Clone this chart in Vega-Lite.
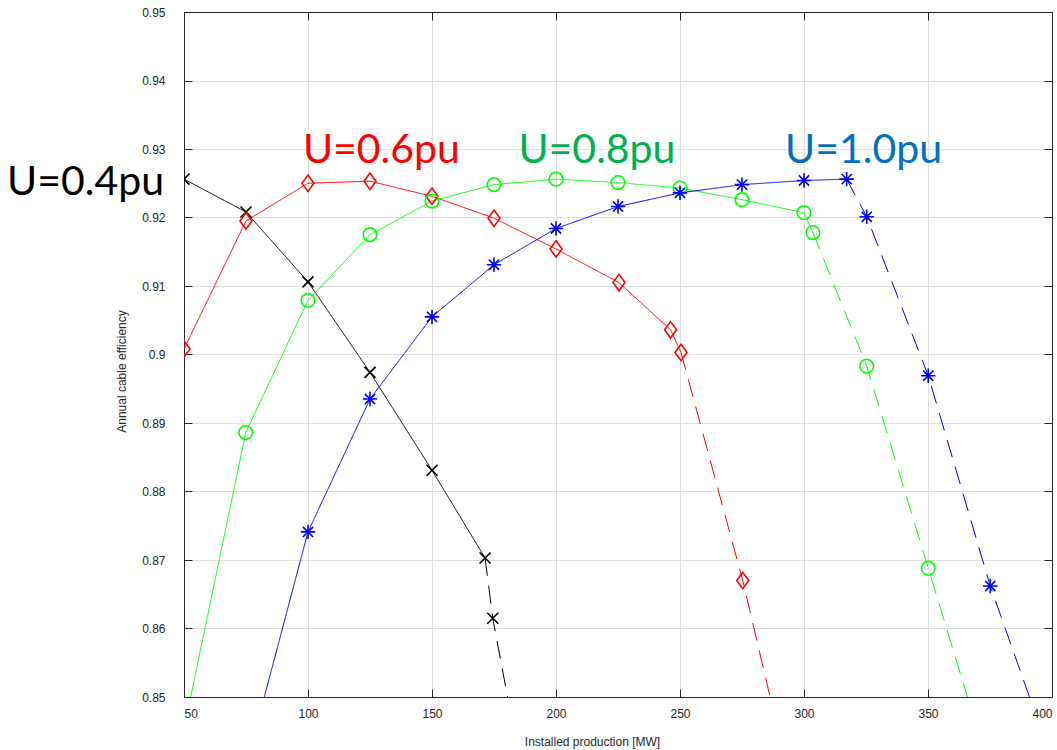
{
  "$schema": "https://vega.github.io/schema/vega-lite/v6.json",
  "width": 868,
  "height": 685,
  "autosize": {"type": "none"},
  "padding": {"left": 184, "top": 12, "right": 5, "bottom": 53},
  "background": "#ffffff",
  "config": {
    "view": {"stroke": null},
    "axis": {
      "domainColor": "#262626",
      "domainWidth": 1,
      "tickColor": "#262626",
      "tickWidth": 1,
      "tickSize": -8,
      "labelFont": "Liberation Sans",
      "labelFontSize": 12,
      "labelColor": "#262626",
      "titleFont": "Liberation Sans",
      "titleFontSize": 12,
      "titleFontWeight": "normal",
      "titleColor": "#262626"
    }
  },
  "datasets": {
    "curves": [
      {"series": "U=0.4pu", "part": "solid", "x": 50, "y": 0.9256},
      {"series": "U=0.4pu", "part": "solid", "x": 75, "y": 0.9208},
      {"series": "U=0.4pu", "part": "solid", "x": 100, "y": 0.9106},
      {"series": "U=0.4pu", "part": "solid", "x": 125, "y": 0.8974},
      {"series": "U=0.4pu", "part": "solid", "x": 150, "y": 0.8831},
      {"series": "U=0.4pu", "part": "solid", "x": 171.4, "y": 0.8703},
      {"series": "U=0.4pu", "part": "dashed", "x": 171.4, "y": 0.8703},
      {"series": "U=0.4pu", "part": "dashed", "x": 174.5, "y": 0.8615},
      {"series": "U=0.4pu", "part": "dashed", "x": 185, "y": 0.8413},

      {"series": "U=0.6pu", "part": "solid", "x": 50, "y": 0.9008},
      {"series": "U=0.6pu", "part": "solid", "x": 75, "y": 0.9195},
      {"series": "U=0.6pu", "part": "solid", "x": 100, "y": 0.925},
      {"series": "U=0.6pu", "part": "solid", "x": 125, "y": 0.9253},
      {"series": "U=0.6pu", "part": "solid", "x": 150, "y": 0.9231},
      {"series": "U=0.6pu", "part": "solid", "x": 175, "y": 0.9199},
      {"series": "U=0.6pu", "part": "solid", "x": 200, "y": 0.9154},
      {"series": "U=0.6pu", "part": "solid", "x": 225.4, "y": 0.9105},
      {"series": "U=0.6pu", "part": "solid", "x": 246.2, "y": 0.9036},
      {"series": "U=0.6pu", "part": "solid", "x": 250.4, "y": 0.9003},
      {"series": "U=0.6pu", "part": "dashed", "x": 250.4, "y": 0.9003},
      {"series": "U=0.6pu", "part": "dashed", "x": 275.3, "y": 0.867},
      {"series": "U=0.6pu", "part": "dashed", "x": 300, "y": 0.829},

      {"series": "U=0.8pu", "part": "solid", "x": 50, "y": 0.8453},
      {"series": "U=0.8pu", "part": "solid", "x": 74.9, "y": 0.8886},
      {"series": "U=0.8pu", "part": "solid", "x": 100, "y": 0.9079},
      {"series": "U=0.8pu", "part": "solid", "x": 125, "y": 0.9175},
      {"series": "U=0.8pu", "part": "solid", "x": 150, "y": 0.9224},
      {"series": "U=0.8pu", "part": "solid", "x": 175, "y": 0.9248},
      {"series": "U=0.8pu", "part": "solid", "x": 200, "y": 0.9256},
      {"series": "U=0.8pu", "part": "solid", "x": 225, "y": 0.9251},
      {"series": "U=0.8pu", "part": "solid", "x": 250, "y": 0.9243},
      {"series": "U=0.8pu", "part": "solid", "x": 275, "y": 0.9226},
      {"series": "U=0.8pu", "part": "solid", "x": 300, "y": 0.9207},
      {"series": "U=0.8pu", "part": "solid", "x": 303.6, "y": 0.9178},
      {"series": "U=0.8pu", "part": "dashed", "x": 303.6, "y": 0.9178},
      {"series": "U=0.8pu", "part": "dashed", "x": 325.3, "y": 0.8983},
      {"series": "U=0.8pu", "part": "dashed", "x": 350.1, "y": 0.8688},
      {"series": "U=0.8pu", "part": "dashed", "x": 375, "y": 0.8392},

      {"series": "U=1.0pu", "part": "solid", "x": 75, "y": 0.8399},
      {"series": "U=1.0pu", "part": "solid", "x": 100, "y": 0.8741},
      {"series": "U=1.0pu", "part": "solid", "x": 125, "y": 0.8935},
      {"series": "U=1.0pu", "part": "solid", "x": 150, "y": 0.9055},
      {"series": "U=1.0pu", "part": "solid", "x": 175, "y": 0.9131},
      {"series": "U=1.0pu", "part": "solid", "x": 200, "y": 0.9184},
      {"series": "U=1.0pu", "part": "solid", "x": 225, "y": 0.9216},
      {"series": "U=1.0pu", "part": "solid", "x": 250, "y": 0.9236},
      {"series": "U=1.0pu", "part": "solid", "x": 275, "y": 0.9248},
      {"series": "U=1.0pu", "part": "solid", "x": 300, "y": 0.9254},
      {"series": "U=1.0pu", "part": "solid", "x": 317.2, "y": 0.9256},
      {"series": "U=1.0pu", "part": "dashed", "x": 317.2, "y": 0.9256},
      {"series": "U=1.0pu", "part": "dashed", "x": 325.3, "y": 0.9201},
      {"series": "U=1.0pu", "part": "dashed", "x": 350.1, "y": 0.8969},
      {"series": "U=1.0pu", "part": "dashed", "x": 375.1, "y": 0.8662},
      {"series": "U=1.0pu", "part": "dashed", "x": 400, "y": 0.8407}
    ],
    "labels": [
      {"series": "U=0.4pu", "x": 10.3, "y": 0.9233},
      {"series": "U=0.6pu", "x": 129.6, "y": 0.928},
      {"series": "U=0.8pu", "x": 216.5, "y": 0.928},
      {"series": "U=1.0pu", "x": 324.0, "y": 0.928}
    ]
  },
  "resolve": {
    "scale": {"color": "independent"},
    "axis": {"x": "independent", "y": "independent"}
  },
  "layer": [
    {
      "data": {"name": "curves"},
      "mark": {"type": "line", "clip": true, "strokeWidth": 1},
      "encoding": {
        "x": {
          "field": "x", "type": "quantitative",
          "scale": {"domain": [50, 400], "nice": false, "zero": false},
          "axis": {
            "orient": "bottom",
            "values": [50, 100, 150, 200, 250, 300, 350, 400],
            "grid": true, "gridColor": "#dfdfdf", "gridWidth": 1,
            "labelPadding": 19,
            "title": "Installed production [MW]",
            "titleX": 408, "titleY": 48, "titleAlign": "center", "titleBaseline": "alphabetic"
          }
        },
        "y": {
          "field": "y", "type": "quantitative",
          "scale": {"domain": [0.85, 0.95], "nice": false, "zero": false},
          "axis": {
            "orient": "left",
            "values": [0.85, 0.86, 0.87, 0.88, 0.89, 0.9, 0.91, 0.92, 0.93, 0.94, 0.95],
            "format": ".2~f",
            "grid": true, "gridColor": "#dfdfdf", "gridWidth": 1,
            "labelPadding": 27,
            "title": "Annual cable efficiency",
            "titleX": -63, "titleY": 359, "titleAngle": -90, "titleAlign": "center", "titleBaseline": "middle"
          }
        },
        "color": {
          "field": "series", "type": "nominal", "legend": null,
          "scale": {"domain": ["U=0.4pu", "U=0.6pu", "U=0.8pu", "U=1.0pu"], "range": ["#000000", "#ff0000", "#00ff00", "#0000ff"]}
        },
        "strokeDash": {
          "field": "part", "type": "nominal", "legend": null,
          "scale": {"domain": ["solid", "dashed"], "range": [[1, 0], [18, 10]]}
        }
      }
    },
    {
      "data": {"name": "curves"},
      "transform": [
        {"window": [{"op": "row_number", "as": "k"}], "groupby": ["series", "part"], "sort": [{"field": "x", "order": "ascending"}]},
        {"filter": "datum.part == 'solid' || datum.k > 1"}
      ],
      "mark": {"type": "point", "filled": false, "clip": true, "strokeWidth": 1.6, "opacity": 1, "size": 400},
      "encoding": {
        "x": {
          "field": "x", "type": "quantitative",
          "scale": {"domain": [50, 400], "nice": false, "zero": false},
          "axis": {"orient": "top", "values": [50, 100, 150, 200, 250, 300, 350, 400], "labels": false, "grid": false, "title": null}
        },
        "y": {
          "field": "y", "type": "quantitative",
          "scale": {"domain": [0.85, 0.95], "nice": false, "zero": false},
          "axis": {"orient": "right", "values": [0.85, 0.86, 0.87, 0.88, 0.89, 0.9, 0.91, 0.92, 0.93, 0.94, 0.95], "labels": false, "grid": false, "title": null}
        },
        "color": {
          "field": "series", "type": "nominal", "legend": null,
          "scale": {"domain": ["U=0.4pu", "U=0.6pu", "U=0.8pu", "U=1.0pu"], "range": ["#000000", "#ff0000", "#00ff00", "#0000ff"]}
        },
        "shape": {
          "field": "series", "type": "nominal", "legend": null,
          "scale": {
            "domain": ["U=0.4pu", "U=0.6pu", "U=0.8pu", "U=1.0pu"],
            "range": [
              "M-0.55,-0.55L0.55,0.55M-0.55,0.55L0.55,-0.55",
              "M0,-0.82L0.6,0L0,0.82L-0.6,0Z",
              "M0.68,0A0.68,0.68,0,1,1,-0.68,0A0.68,0.68,0,1,1,0.68,0Z",
              "M-0.72,0L0.72,0M0,-0.72L0,0.72M-0.51,-0.51L0.51,0.51M-0.51,0.51L0.51,-0.51"
            ]
          }
        }
      }
    },
    {
      "data": {"name": "labels"},
      "mark": {"type": "text", "font": "Lato", "fontSize": 41, "align": "center", "baseline": "alphabetic"},
      "encoding": {
        "x": {"field": "x", "type": "quantitative", "scale": {"domain": [50, 400], "nice": false, "zero": false}, "axis": null},
        "y": {"field": "y", "type": "quantitative", "scale": {"domain": [0.85, 0.95], "nice": false, "zero": false}, "axis": null},
        "text": {"field": "series"},
        "color": {
          "field": "series", "type": "nominal", "legend": null,
          "scale": {"domain": ["U=0.4pu", "U=0.6pu", "U=0.8pu", "U=1.0pu"], "range": ["#000000", "#ff0000", "#00b050", "#0070c0"]}
        }
      }
    }
  ]
}
